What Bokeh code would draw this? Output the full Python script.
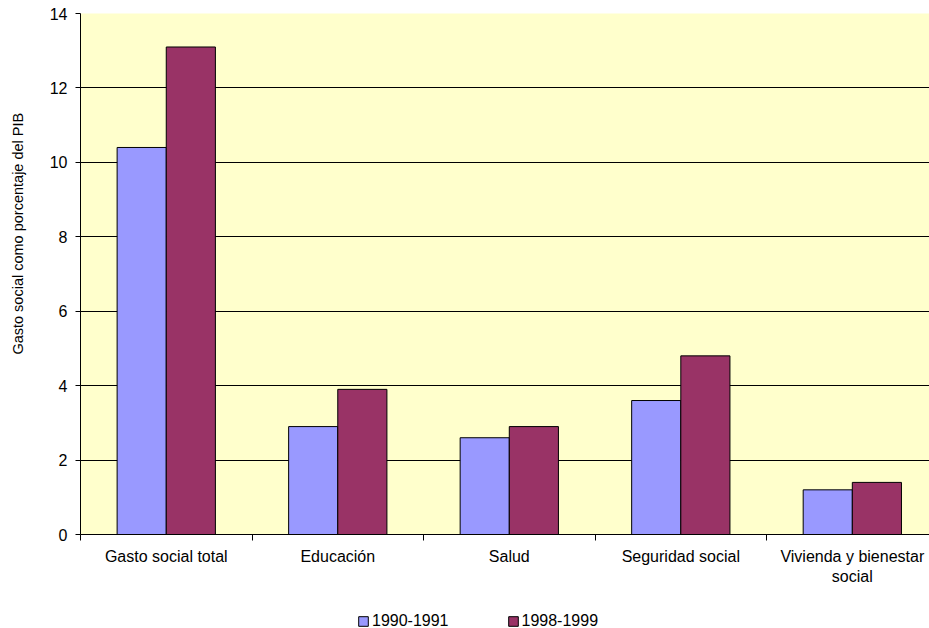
from bokeh.plotting import figure
from bokeh.models import Range1d, FixedTicker, ColumnDataSource, Legend, LegendItem
from bokeh.layouts import column
from bokeh.transform import dodge
from bokeh.embed import file_html
from bokeh.resources import INLINE

categories = ["Gasto social total", "Educación", "Salud", "Seguridad social",
              "Vivienda y bienestar social"]
tick_labels = ["Gasto social total", "Educación", "Salud", "Seguridad social",
               "Vivienda y bienestar\nsocial"]
series_names = ["1990-1991", "1998-1999"]
values_1990 = [10.4, 2.9, 2.6, 3.6, 1.2]
values_1998 = [13.1, 3.9, 2.9, 4.8, 1.4]
y_ticks = [0, 2, 4, 6, 8, 10, 12, 14]
y_title = "Gasto social como porcentaje del PIB"

FONT = "Liberation Sans"
FS = "16px"
BLUE = "#9999FF"
MAROON = "#993366"

centers = [i + 0.5 for i in range(len(categories))]
source = ColumnDataSource(dict(x=centers, v1=values_1990, v2=values_1998, cat=categories))

p = figure(width=929, height=588, output_backend="svg", toolbar_location=None,
           x_range=Range1d(0, 4.95), y_range=Range1d(0, 14),
           min_border_left=80, min_border_right=0, min_border_top=13,
           min_border_bottom=54)
p.background_fill_color = "#FFFFCC"
p.border_fill_color = "white"
p.outline_line_color = None

bw = 0.2865
p.vbar(x=dodge("x", -bw / 2, range=p.x_range), top="v1", width=bw, source=source,
       fill_color=BLUE, line_color="black", line_width=1)
p.vbar(x=dodge("x", bw / 2, range=p.x_range), top="v2", width=bw, source=source,
       fill_color=MAROON, line_color="black", line_width=1)

# grid
p.xgrid.grid_line_color = None
p.ygrid.ticker = FixedTicker(ticks=y_ticks)
p.ygrid.grid_line_color = "black"
p.ygrid.grid_line_width = 1

# x axis
xa = p.xaxis[0]
xa.ticker = FixedTicker(ticks=centers, minor_ticks=list(range(len(categories) + 1)))
xa.major_label_overrides = {c: t for c, t in zip(centers, tick_labels)}
xa.major_tick_line_color = None
xa.major_tick_out = 0
xa.major_tick_in = 0
xa.minor_tick_line_color = "black"
xa.minor_tick_out = 6
xa.minor_tick_in = 0
xa.major_label_standoff = 7
xa.axis_line_color = "black"
xa.major_label_text_font = FONT
xa.major_label_text_font_size = FS
xa.major_label_text_color = "black"

# y axis
ya = p.yaxis[0]
ya.ticker = FixedTicker(ticks=y_ticks)
ya.minor_tick_line_color = None
ya.major_tick_out = 5
ya.major_tick_in = 0
ya.major_tick_line_color = "black"
ya.axis_line_color = "black"
ya.major_label_standoff = 8
ya.major_label_text_font = FONT
ya.major_label_text_font_size = FS
ya.major_label_text_color = "black"
ya.axis_label = "\u00a0" * 20 + y_title
ya.axis_label_standoff = 21
ya.axis_label_text_font = FONT
ya.axis_label_text_font_size = "14.5px"
ya.axis_label_text_font_style = "normal"
ya.axis_label_text_color = "black"

# legend strip below the chart (key glyphs sit below its visible range)
q = figure(width=929, height=40, output_backend="svg", toolbar_location=None,
           x_range=Range1d(0, 1), y_range=Range1d(0, 1),
           x_axis_type=None, y_axis_type=None, min_border=0)
q.grid.grid_line_color = None
q.outline_line_color = None
q.background_fill_color = "white"
q.border_fill_color = "white"
k1 = q.vbar(x=[0.5], top=[-5], bottom=[-6], width=0.01, fill_color=BLUE,
            line_color="black", line_width=1)
k2 = q.vbar(x=[0.5], top=[-5], bottom=[-6], width=0.01, fill_color=MAROON,
            line_color="black", line_width=1)
lg = Legend(items=[LegendItem(label=series_names[0], renderers=[k1]),
                   LegendItem(label=series_names[1], renderers=[k2])],
            orientation="horizontal", location=(277, -2))
lg.padding = 0
lg.margin = 0
lg.border_line_color = None
lg.background_fill_alpha = 0
lg.glyph_width = 12
lg.glyph_height = 12
lg.label_height = 12
lg.label_standoff = 3
lg.spacing = 58
lg.label_text_font = FONT
lg.label_text_font_size = FS
lg.label_text_color = "black"
q.add_layout(lg)

open("out.html", "w").write(file_html(column(p, q, spacing=0), INLINE))
